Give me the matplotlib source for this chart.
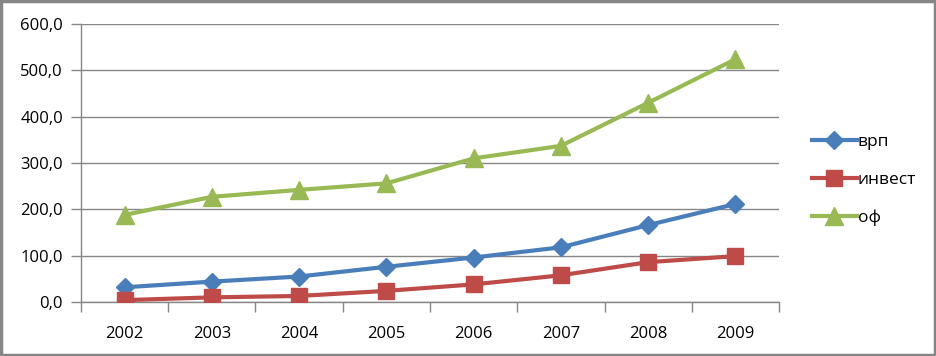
import matplotlib
matplotlib.use("Agg")
import matplotlib.pyplot as plt
from matplotlib.patches import Rectangle
from matplotlib.ticker import FuncFormatter, MultipleLocator

years = ["2002", "2003", "2004", "2005", "2006", "2007", "2008", "2009"]
vrp = [31.7, 44, 55, 76, 96, 118, 166, 211.5]
invest = [4, 10, 13, 24, 38, 57.6, 86, 99]
of = [188, 227, 242, 256, 310, 337, 430, 524]

plt.rcParams['font.family'] = ['Open Sans', 'DejaVu Sans']

fig = plt.figure(figsize=(9.37, 3.56), dpi=100)
ax = fig.add_axes([81/937, 1-302/356, (779-81)/937, (302-24)/356])

x = list(range(len(years)))
ax.plot(x, vrp, color='#4A7EBB', lw=3, marker='D', ms=9, label='врп', zorder=3)
ax.plot(x, invest, color='#BE4B48', lw=3, marker='s', ms=12, label='инвест', zorder=3)
ax.plot(x, of, color='#98B954', lw=3, marker='^', ms=13, label='оф', zorder=3)

ax.set_xlim(-0.5, len(years)-0.5)
ax.set_ylim(0, 600)
ax.yaxis.set_major_locator(MultipleLocator(100))
ax.yaxis.set_major_formatter(FuncFormatter(lambda v, p: f"{v:.1f}".replace('.', ',')))
ax.set_xticks(x)
ax.set_xticklabels(years)
ax.set_xticks([i-0.5 for i in range(len(years)+1)], minor=True)
ax.tick_params(axis='x', which='major', length=0, pad=17, labelsize=12)
ax.tick_params(axis='x', which='minor', length=7, color='#868686', width=1, direction='out')
ax.tick_params(axis='y', length=7, color='#868686', width=1, labelsize=12, pad=6)
ax.grid(axis='y', color='#868686', lw=1)
ax.set_axisbelow(True)
for s in ['top', 'right']:
    ax.spines[s].set_visible(False)
for s in ['left', 'bottom']:
    ax.spines[s].set_color('#868686')
    ax.spines[s].set_linewidth(1)

leg = fig.legend(loc='upper left', bbox_to_anchor=(796/937, 1-118/356), frameon=False,
                 fontsize=12.5, handlelength=2.6, labelspacing=1.25, handletextpad=0.05)

fig.patches.append(Rectangle((0.0015, 0.003), 0.996, 0.993, transform=fig.transFigure,
                             fill=False, edgecolor='#868686', lw=2.5))
fig.savefig("out.png", dpi=100)
